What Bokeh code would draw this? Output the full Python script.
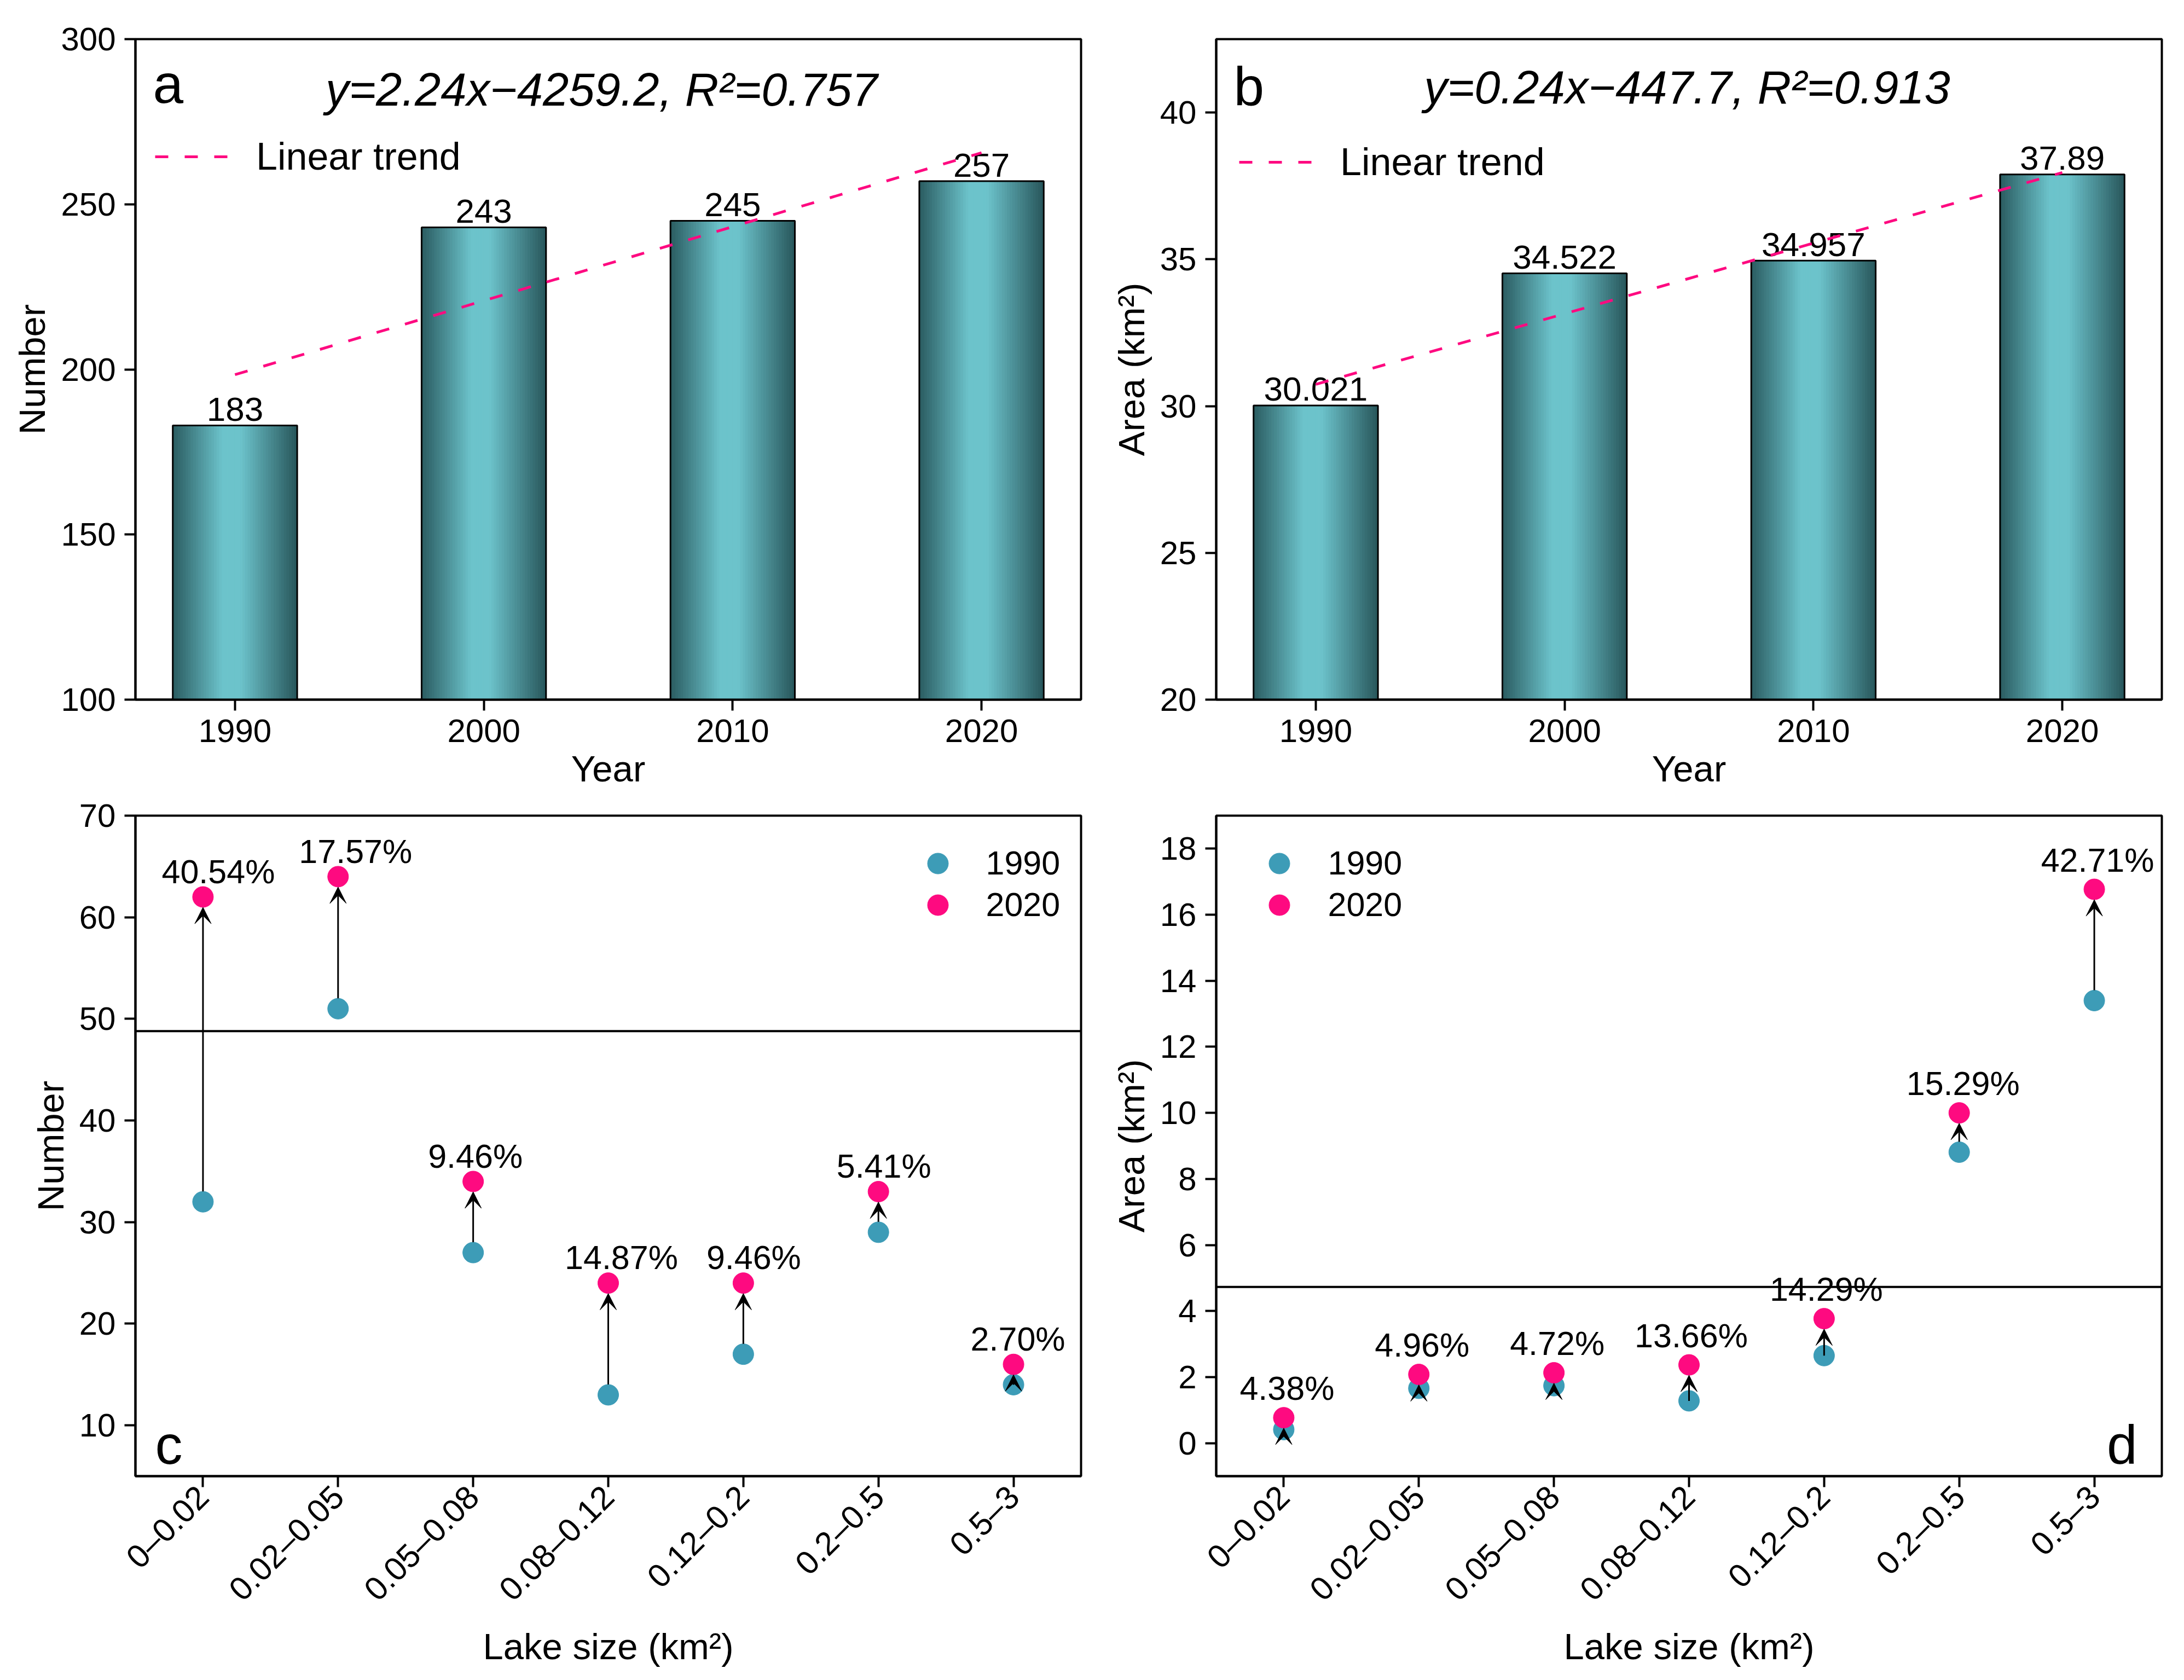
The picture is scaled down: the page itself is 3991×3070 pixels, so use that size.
import math
import numpy as np
from bokeh.plotting import figure
from bokeh.models import (Range1d, FactorRange, ColumnDataSource, Legend, LegendItem,
                          Label, Span, Arrow, VeeHead, FixedTicker)
from bokeh.layouts import column, row
from bokeh.core.properties import value
from bokeh.embed import file_html
from bokeh.resources import INLINE

# ---------------- data ----------------
years = [1990, 2000, 2010, 2020]
lake_number = [183, 243, 245, 257]
lake_area = [30.021, 34.522, 34.957, 37.89]

size_classes = ["0–0.02", "0.02–0.05", "0.05–0.08", "0.08–0.12", "0.12–0.2", "0.2–0.5", "0.5–3"]
number_1990 = [32, 51, 27, 13, 17, 29, 14]
number_2020 = [62, 64, 34, 24, 24, 33, 16]
number_pct = ["40.54%", "17.57%", "9.46%", "14.87%", "9.46%", "5.41%", "2.70%"]
area_1990 = [0.41, 1.66, 1.74, 1.28, 2.65, 8.81, 13.40]
area_2020 = [0.77, 2.08, 2.13, 2.37, 3.77, 10.00, 16.77]
area_pct = ["4.38%", "4.96%", "4.72%", "13.66%", "14.29%", "15.29%", "42.71%"]
number_divider = 48.8
area_divider = 4.73

number_ticks = [100, 150, 200, 250, 300]
area_ticks = [20, 25, 30, 35, 40]
count_ticks = [10, 20, 30, 40, 50, 60, 70]
class_area_ticks = [0, 2, 4, 6, 8, 10, 12, 14, 16, 18]

# ---------------- style ----------------
FONT = "Liberation Sans"
PINK = "#fe0a80"
TEAL = "#3d9cb7"
DARK = np.array([0x2a, 0x5b, 0x60])
LIGHT = np.array([0x6c, 0xc3, 0xcb])
FW, FH = 1728, 1207          # frame size in px
TOP_B, TOP_BB = 71, 190      # top-row borders (top, bottom)
BOT_T, BOT_BB = 22, 365      # bottom-row borders (top, bottom)
TOP_H = TOP_B + FH + TOP_BB
BOT_H = BOT_T + FH + BOT_BB
A_W, B_W = 2002, 1973        # figure widths
A_L, B_L = 247, 220          # left borders
BAR_W = 5
MS = 38                      # marker size
BFIX = 0.25                  # baseline correction (em)


def grad_color(t):
    stops = [(0.0, DARK), (0.40, LIGHT), (0.55, LIGHT), (1.0, DARK * 0.95)]
    for (t0, c0), (t1, c1) in zip(stops[:-1], stops[1:]):
        if t0 <= t <= t1:
            f = (t - t0) / (t1 - t0) if t1 > t0 else 0
            c = c0 + (c1 - c0) * f
            return "#%02x%02x%02x" % tuple(int(round(v)) for v in c)
    return "#2a5b60"


def style(p, ylabel, xlabel):
    p.outline_line_color = "black"
    p.outline_line_width = 4
    p.grid.visible = False
    p.background_fill_color = "white"
    p.border_fill_color = "white"
    p.yaxis.axis_label = ylabel
    p.xaxis.axis_label = xlabel
    for ax in p.axis:
        ax.axis_line_width = 4
        ax.axis_line_color = "black"
        ax.major_tick_line_width = 4
        ax.major_tick_line_color = "black"
        ax.major_tick_out = 20
        ax.major_tick_in = 0
        ax.minor_tick_out = 0
        ax.minor_tick_in = 0
        ax.major_label_text_font = FONT
        ax.major_label_text_font_size = "60px"
        ax.major_label_text_color = "black"
        ax.axis_label_text_font = FONT
        ax.axis_label_text_font_size = "67px"
        ax.axis_label_text_font_style = "normal"
        ax.axis_label_text_color = "black"
        ax.major_label_standoff = 16
        ax.axis_label_standoff = 12


def add_label(p, x, y, text, size, align="left", style_="normal"):
    p.add_layout(Label(x=x, y=y, text=text, text_font=FONT, text_font_size="%dpx" % size,
                       text_align=align, text_baseline="alphabetic",
                       text_font_style=style_, text_color="black"))


def one_legend(label, rend, vx, vy, gw, gh, standoff, size):
    return Legend(items=[LegendItem(label=label, renderers=[rend])],
                  location=(vx, vy), glyph_width=gw, glyph_height=gh,
                  label_height=gh, label_standoff=standoff, padding=0, spacing=0,
                  label_text_font=FONT, label_text_font_size="%dpx" % size,
                  label_text_color="black", border_line_alpha=0, background_fill_alpha=0)


def bar_panel(vals, ymin, ymax, ticks, ylabel, width, bl, letter,
              eq_fx, eq_dy, let_dy, leg_dx, leg_cy):
    xs, xe = 1986, 2024
    p = figure(width=width, height=TOP_H, x_range=Range1d(xs, xe),
               y_range=Range1d(ymin, ymax), output_backend="svg", toolbar_location=None,
               min_border_left=bl, min_border_right=width - bl - FW, min_border_top=TOP_B,
               min_border_bottom=TOP_BB)
    style(p, ylabel, "Year")
    p.xaxis.ticker = FixedTicker(ticks=years)
    p.yaxis.ticker = FixedTicker(ticks=ticks)
    p.xaxis.major_label_standoff = 16
    p.xaxis.axis_label_standoff = 8

    # gradient-shaded bars from vertical strips
    N = 48
    L, R, T, B, C = [], [], [], [], []
    for yr, v in zip(years, vals):
        for k in range(N):
            l = yr - BAR_W / 2 + k * BAR_W / N
            L.append(l); R.append(l + BAR_W / N); T.append(v); B.append(ymin)
            C.append(grad_color((k + 0.5) / N))
    p.quad(left=L, right=R, top=T, bottom=B, fill_color=C, line_color=C, line_width=1.2)
    p.vbar(x=years, top=vals, bottom=ymin, width=BAR_W, fill_color=None,
           line_color="black", line_width=3)

    p.text(x=years, y=vals, text=[str(v) for v in vals], y_offset=-(14 + BFIX * 62),
           text_align="center", text_baseline="alphabetic",
           text_font=value(FONT), text_font_size="62px", text_color="black")

    coef = np.polyfit(years, vals, 1)
    fit = np.polyval(coef, years)
    r2 = 1 - np.sum((np.array(vals) - fit) ** 2) / np.sum((np.array(vals) - np.mean(vals)) ** 2)
    trend = p.line(x=years, y=list(fit), line_color=PINK, line_width=5, line_dash="24 30")

    sx = (xe - xs) / FW
    sy = (ymax - ymin) / FH
    eq = "y=%.2fx\u2212%.1f, R\u00b2=%.3f" % (coef[0], abs(coef[1]), r2)
    add_label(p, xs + eq_fx * (xe - xs), ymax - (eq_dy - BFIX * 85) * sy, eq, 85, "center", "italic")
    add_label(p, xs + 32 * sx, ymax - (let_dy - BFIX * 100) * sy, letter, 100)

    p.add_layout(one_legend("Linear trend", trend, leg_dx, FH - leg_cy - 42, 140, 84, 45, 70))
    return p


def dot_panel(v90, v20, pct, ymin, ymax, ticks, ylabel, width, bl, divider,
              letter, letter_right, leg_dx, leg_standoff, pct_dx, pct_dy):
    p = figure(width=width, height=BOT_H, x_range=FactorRange(*size_classes),
               y_range=Range1d(ymin, ymax), output_backend="svg", toolbar_location=None,
               min_border_left=bl, min_border_right=width - bl - FW, min_border_top=BOT_T,
               min_border_bottom=BOT_BB)
    style(p, ylabel, "Lake size (km\u00b2)")
    p.yaxis.ticker = FixedTicker(ticks=ticks)
    p.xaxis.major_label_orientation = math.pi / 4
    p.xaxis.major_label_text_font_size = "60px"
    p.xaxis.major_label_standoff = 8
    p.xaxis.axis_label_standoff = 6

    p.add_layout(Span(location=divider, dimension="width", line_color="black", line_width=4))

    r90 = p.scatter(x=size_classes, y=v90, size=MS, fill_color=TEAL, line_color=TEAL)
    r20 = p.scatter(x=size_classes, y=v20, size=MS, fill_color=PINK, line_color=PINK)

    n = len(size_classes)
    sx = n / FW
    upp = (ymax - ymin) / FH           # data units per px
    rad = MS / 2 * upp
    head = 30 * upp
    x0, y0, y1 = [], [], []
    for i, (a, b) in enumerate(zip(v90, v20)):
        end = b - rad
        start = a + rad
        if start > end - head:
            start = a
        x0.append(i + 0.5); y0.append(start); y1.append(end)
    p.add_layout(Arrow(end=VeeHead(size=30, fill_color="black", line_color="black", line_width=1),
                       source=ColumnDataSource(dict(x0=x0, y0=y0, x1=x0, y1=y1)),
                       x_start="x0", y_start="y0", x_end="x1", y_end="y1",
                       line_color="black", line_width=3))

    src = ColumnDataSource(dict(x=size_classes, y=v20, t=pct, dx=pct_dx))
    p.text(x="x", y="y", text="t", x_offset="dx", y_offset=pct_dy - BFIX * 61, source=src,
           text_align="center", text_baseline="alphabetic",
           text_font=value(FONT), text_font_size="61px", text_color="black")

    if letter_right:
        add_label(p, n - 45 * sx, ymin + (33 + BFIX * 100) * upp, letter, 100, "right")
    else:
        add_label(p, 36 * sx, ymin + (33 + BFIX * 100) * upp, letter, 100, "left")

    for lab, rend, cy in (("1990", r90, 87), ("2020", r20, 163)):
        p.add_layout(one_legend(lab, rend, leg_dx, FH - cy - 47.5, 95, 95, leg_standoff, 61))
    return p


pa = bar_panel(lake_number, 100, 300, number_ticks, "Number", A_W, A_L,
               "a", 0.493, 113, 106, 36, 215)
pb = bar_panel(lake_area, 20, 42.5, area_ticks, "Area (km\u00b2)", B_W, B_L,
               "b", 0.498, 109, 111, 42, 225)
pc = dot_panel(number_1990, number_2020, number_pct, 5, 70, count_ticks, "Number",
               A_W, A_L, number_divider, "c", False, 1418.5, 41,
               [28, 32, 4, 24, 19, 10, 8], -31)
pd = dot_panel(area_1990, area_2020, area_pct, -1, 19, class_area_ticks, "Area (km\u00b2)",
               B_W, B_L, area_divider, "d", True, 67.5, 42,
               [6, 6, 6, 4, 4, 7, 6], -38)

layout = column(row(pa, pb), row(pc, pd))
open("out.html", "w").write(file_html(layout, INLINE))
